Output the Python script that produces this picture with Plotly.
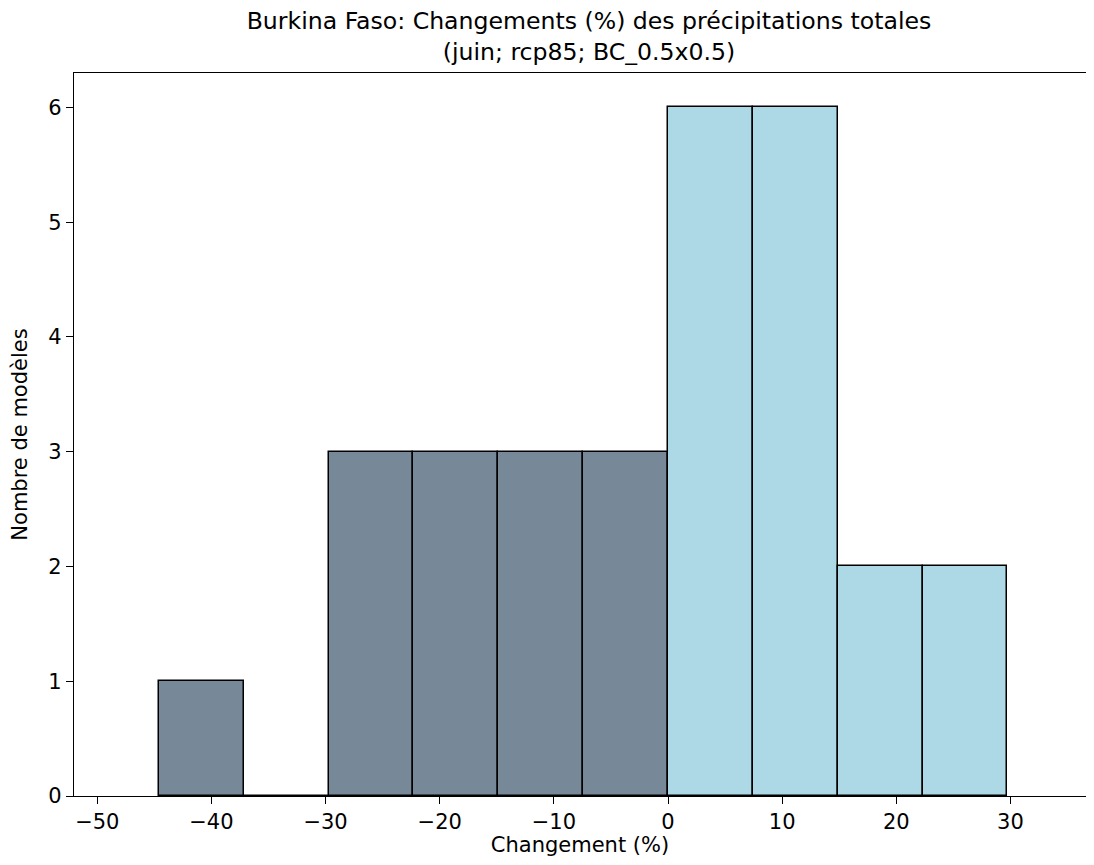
import plotly.graph_objects as go

# Histogram data (bin edges in %, number of models per bin)
bin_edges = [-44.6, -37.17, -29.74, -22.30, -14.87, -7.43, 0.0, 7.43, 14.87, 22.30, 29.74]
counts = [1, 0, 3, 3, 3, 3, 6, 6, 2, 2]
x_ticks = [-50, -40, -30, -20, -10, 0, 10, 20, 30]
y_ticks = [0, 1, 2, 3, 4, 5, 6]

title_text = "Burkina Faso: Changements (%) des précipitations totales<br>(juin; rcp85; BC_0.5x0.5)"
x_label = "Changement (%)"
y_label = "Nombre de modèles"

neg_color = "#778899"
pos_color = "#add8e6"

centers = [(a + b) / 2 for a, b in zip(bin_edges[:-1], bin_edges[1:])]
widths = [b - a for a, b in zip(bin_edges[:-1], bin_edges[1:])]
colors = [neg_color if c < 0 else pos_color for c in centers]

FONT = "DejaVu Sans"
W, H = 1078, 849

fig = go.Figure()
fig.add_trace(go.Bar(
    x=centers, y=counts, width=widths,
    marker=dict(color=colors, line=dict(color="black", width=1.5)),
    showlegend=False, hoverinfo="x+y",
))

fig.update_layout(
    width=W, height=H,
    margin=dict(l=66, r=0, t=65, b=61),
    paper_bgcolor="white", plot_bgcolor="white",
    font=dict(family=FONT, size=21, color="black"),
    title=dict(text=title_text, x=581 / W, xanchor="center", xref="container",
               y=1 - 21 / H, yanchor="bottom", yref="container",
               font=dict(family=FONT, size=23.6, color="black")),
    bargap=0,
)
fig.update_xaxes(
    range=[-52.04, 36.62], tickvals=x_ticks, ticks="outside", ticklen=7, tickwidth=1.3,
    tickcolor="black", showline=True, linecolor="black", linewidth=1.3, mirror=True,
    showgrid=False, zeroline=False,
    title=dict(text=x_label, font=dict(family=FONT, size=21), standoff=16),
    automargin=False,
)
fig.update_yaxes(
    range=[0, 6.3], tickvals=y_ticks, ticks="outside", ticklen=7, tickwidth=1.3,
    tickcolor="black", showline=True, linecolor="black", linewidth=1.3, mirror=False,
    showgrid=False, zeroline=False,
    title=dict(text=y_label, font=dict(family=FONT, size=21), standoff=15),
    automargin=False,
)

fig.write_html("out.html")
